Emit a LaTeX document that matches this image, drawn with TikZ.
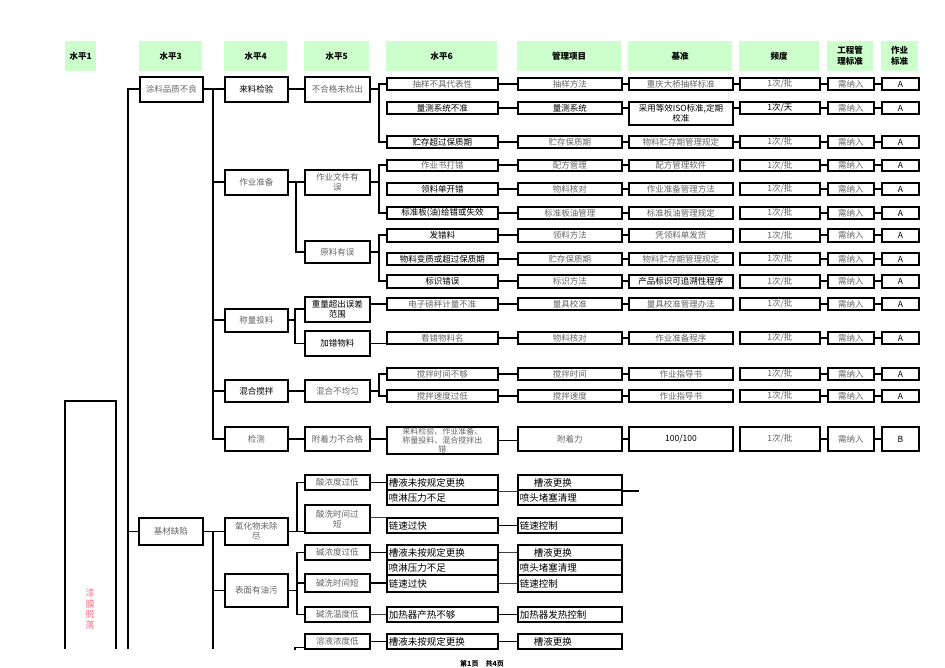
\documentclass[tikz,border=0pt]{standalone}
\usepackage{fontspec}
\newfontfamily\cjk{Noto Sans CJK SC}
\definecolor{hdrgreen}{RGB}{204,255,204}
\definecolor{txtgray}{RGB}{100,100,100}
\definecolor{pinktxt}{RGB}{250,110,130}
\tikzset{
  box/.style={draw, line width=1.9pt, anchor=north west, inner sep=0pt, text=txtgray,
    font=\cjk\fontsize{8.5}{9.5}\selectfont, align=center},
  bbox/.style={box, text=black},
  hdr/.style={fill=hdrgreen, anchor=north west, inner sep=0pt, minimum height=30pt,
    font=\cjk\bfseries\fontsize{8.5}{11}\selectfont, align=center},
  cbox/.style={draw, line width=1.9pt, anchor=north west, inner sep=2pt, text width=107pt,
    align=left, text=black, font=\cjk\fontsize{9.5}{10}\selectfont},
  mbox/.style={cbox, text width=100pt},
  con/.style={line width=1.9pt},
  thin/.style={line width=0.8pt, black!75},
}
\begin{document}
\begin{tikzpicture}[x=1pt, y=-1pt]
  \useasboundingbox (0,0) rectangle (945,668);

  % header row
  \node[hdr, minimum width=31pt] (h1) at (65,41) {水平1};
  \node[hdr, minimum width=63pt] (h3) at (139,41) {水平3};
  \node[hdr, minimum width=63pt] (h4) at (224,41) {水平4};
  \node[hdr, minimum width=65pt] (h5) at (304,41) {水平5};
  \node[hdr, minimum width=111pt] (h6) at (386,41) {水平6};
  \node[hdr, minimum width=104pt] (hm) at (517,41) {管理项目};
  \node[hdr, minimum width=104pt] (hs) at (628,41) {基准};
  \node[hdr, minimum width=80pt] (hf) at (739,41) {频度};
  \node[hdr, minimum width=46pt] (hg) at (827,41) {工程管\\理标准};
  \node[hdr, minimum width=37pt] (hz) at (881,41) {作业\\标准};

  % left frame
  \draw[con] (65,649) -- (65,401) -- (116,401) -- (116,649);
  \node[font=\cjk\fontsize{9}{10.5}\selectfont, text=pinktxt, align=center] (ltxt) at (90,609) {漆\\膜\\脱\\落};

  % level 3
  \node[box, minimum width=63pt, minimum height=25pt] (pq) at (139,76) {涂料品质不良};
  \node[box, minimum width=64pt, minimum height=27pt] (jc) at (138,517) {基材缺陷};

  % level 4
  \node[bbox, minimum width=63pt, minimum height=25pt] (ll) at (224,76) {来料检验};
  \node[box, minimum width=63pt, minimum height=25pt] (zb) at (224,169) {作业准备};
  \node[box, minimum width=63pt, minimum height=23pt] (cl) at (224,308) {称量投料};
  \node[bbox, minimum width=63pt, minimum height=22pt] (hh) at (224,379) {混合搅拌};
  \node[box, minimum width=63pt, minimum height=24pt] (jct) at (224,426) {检测};
  \node[box, minimum width=63pt, minimum height=27pt] (yh) at (224,517) {氧化物未除\\尽};
  \node[box, minimum width=63pt, minimum height=33pt] (yw) at (224,573) {表面有油污};

  % level 5
  \node[box, minimum width=65pt, minimum height=25pt] (bh) at (304,76) {不合格未检出};
  \node[box, minimum width=65pt, minimum height=25pt] (wj) at (304,169) {作业文件有\\误};
  \node[box, minimum width=65pt, minimum height=22pt] (yl) at (304,240) {原料有误};
  \node[bbox, minimum width=65pt, minimum height=25pt] (zl) at (304,296) {重量超出误差\\范围};
  \node[bbox, minimum width=65pt, minimum height=25pt] (jw) at (304,330) {加错物料};
  \node[box, minimum width=65pt, minimum height=22pt] (bj) at (304,379) {混合不均匀};
  \node[box, minimum width=65pt, minimum height=24pt] (fz) at (304,426) {附着力不合格};
  \node[box, minimum width=65pt, minimum height=15pt] (sn) at (304,474) {酸浓度过低};
  \node[box, minimum width=65pt, minimum height=28pt] (ss) at (304,504) {酸洗时间过\\短};
  \node[box, minimum width=65pt, minimum height=15pt] (jn) at (304,544) {碱浓度过低};
  \node[box, minimum width=65pt, minimum height=18pt] (js) at (304,573) {碱洗时间短};
  \node[box, minimum width=65pt, minimum height=15pt] (jwd) at (304,606) {碱洗温度低};
  \node[box, minimum width=65pt, minimum height=15pt] (rn) at (304,633) {溶液浓度低};

  % level 6
  \node[box, minimum width=111pt, minimum height=12pt] (r1) at (386,77) {抽样不具代表性};
  \node[bbox, minimum width=111pt, minimum height=12pt] (r2) at (386,101) {量测系统不准};
  \node[bbox, minimum width=111pt, minimum height=12pt] (r3) at (386,135) {贮存超过保质期};
  \node[box, minimum width=111pt, minimum height=11pt] (r4) at (386,159) {作业书打错};
  \node[bbox, minimum width=111pt, minimum height=12pt] (r5) at (386,182) {领料单开错};
  \node[bbox, minimum width=111pt, minimum height=12pt] (r6) at (386,206) {标准板(油)给错或失效};
  \node[bbox, minimum width=111pt, minimum height=13pt] (r7) at (386,228) {发错料};
  \node[bbox, minimum width=111pt, minimum height=12pt] (r8) at (386,252) {物料变质或超过保质期};
  \node[bbox, minimum width=111pt, minimum height=13pt] (r9) at (386,274) {标识错误};
  \node[box, minimum width=111pt, minimum height=12pt] (r10) at (386,297) {电子磅秤计量不准};
  \node[box, minimum width=111pt, minimum height=12pt] (r11) at (386,331) {看错物料名};
  \node[box, minimum width=111pt, minimum height=12pt] (r12) at (386,367) {搅拌时间不够};
  \node[box, minimum width=111pt, minimum height=12pt] (r13) at (386,389) {搅拌速度过低};
  \node[box, minimum width=111pt, minimum height=27pt, font=\cjk\fontsize{8}{8.6}\selectfont]
    (r14) at (386,426) {来料检验、作业准备、\\称量投料、混合搅拌出\\错};

  % management items
  \node[box, minimum width=104pt, minimum height=12pt] (m1) at (517,77) {抽样方法};
  \node[bbox, minimum width=104pt, minimum height=12pt] (m2) at (517,101) {量测系统};
  \node[box, minimum width=104pt, minimum height=12pt] (m3) at (517,135) {贮存保质期};
  \node[box, minimum width=104pt, minimum height=11pt] (m4) at (517,159) {配方管理};
  \node[box, minimum width=104pt, minimum height=12pt] (m5) at (517,182) {物料核对};
  \node[box, minimum width=104pt, minimum height=12pt] (m6) at (517,206) {标准板油管理};
  \node[box, minimum width=104pt, minimum height=13pt] (m7) at (517,228) {领料方法};
  \node[box, minimum width=104pt, minimum height=12pt] (m8) at (517,252) {贮存保质期};
  \node[box, minimum width=104pt, minimum height=13pt] (m9) at (517,274) {标识方法};
  \node[box, minimum width=104pt, minimum height=12pt] (m10) at (517,297) {量具校准};
  \node[box, minimum width=104pt, minimum height=12pt] (m11) at (517,331) {物料核对};
  \node[box, minimum width=104pt, minimum height=12pt] (m12) at (517,367) {搅拌时间};
  \node[box, minimum width=104pt, minimum height=12pt] (m13) at (517,389) {搅拌速度};
  \node[box, minimum width=104pt, minimum height=24pt] (m14) at (517,426) {附着力};

  % standards
  \node[box, minimum width=104pt, minimum height=12pt] (s1) at (628,77) {重庆大桥抽样标准};
  \node[bbox, minimum width=104pt, minimum height=23pt] (s2) at (628,101) {采用等效ISO标准,定期\\校准};
  \node[box, minimum width=104pt, minimum height=12pt] (s3) at (628,135) {物料贮存期管理规定};
  \node[box, minimum width=104pt, minimum height=11pt] (s4) at (628,159) {配方管理软件};
  \node[box, minimum width=104pt, minimum height=12pt] (s5) at (628,182) {作业准备管理方法};
  \node[box, minimum width=104pt, minimum height=12pt] (s6) at (628,206) {标准板油管理规定};
  \node[box, minimum width=104pt, minimum height=13pt] (s7) at (628,228) {凭领料单发货};
  \node[box, minimum width=104pt, minimum height=12pt] (s8) at (628,252) {物料贮存期管理规定};
  \node[bbox, minimum width=104pt, minimum height=13pt] (s9) at (628,274) {产品标识可追溯性程序};
  \node[box, minimum width=104pt, minimum height=12pt] (s10) at (628,297) {量具校准管理办法};
  \node[box, minimum width=104pt, minimum height=12pt] (s11) at (628,331) {作业准备程序};
  \node[box, minimum width=104pt, minimum height=12pt] (s12) at (628,367) {作业指导书};
  \node[box, minimum width=104pt, minimum height=12pt] (s13) at (628,389) {作业指导书};
  \node[bbox, minimum width=104pt, minimum height=24pt] (s14) at (628,426) {100/100};

  % frequency, project standard, work standard
  \foreach \i/\ya/\h/\fq/\zt in {1/77/12/{1次/批}/A, 2/101/12/{\textcolor{black}{1次/天}}/A,
      3/135/12/{1次/批}/A, 4/159/11/{1次/批}/A, 5/182/12/{1次/批}/A, 6/206/12/{1次/批}/A,
      7/228/13/{1次/批}/A, 8/252/12/{1次/批}/A, 9/274/13/{1次/批}/A, 10/297/12/{1次/批}/A,
      11/331/12/{1次/批}/A, 12/367/12/{1次/批}/A, 13/389/12/{1次/批}/A, 14/426/24/{1次/批}/B} {
    \node[box, minimum width=80pt, minimum height=\h] (f\i) at (739,\ya) {\fq};
    \node[box, minimum width=46pt, minimum height=\h] (g\i) at (827,\ya) {需纳入};
    \node[bbox, minimum width=37pt, minimum height=\h] (z\i) at (881,\ya) {\zt};
  }

  % causes and measures
  \node[cbox, minimum height=15pt] (c1a) at (386,474) {槽液未按规定更换};
  \node[cbox, minimum height=15pt] (c1b) at (386,489) {喷淋压力不足};
  \node[cbox, minimum height=15pt] (c2) at (386,517) {链速过快};
  \node[cbox, minimum height=15pt] (c3a) at (386,544) {槽液未按规定更换};
  \node[cbox, minimum height=15pt] (c3b) at (386,559) {喷淋压力不足};
  \node[cbox, minimum height=17pt] (c3c) at (386,574) {链速过快};
  \node[cbox, minimum height=15pt] (c4) at (386,606) {加热器产热不够};
  \node[cbox, minimum height=15pt] (c5) at (386,633) {槽液未按规定更换};
  \node[mbox, minimum height=15pt] (d1a) at (517,474) {\hspace*{14pt}槽液更换};
  \node[mbox, minimum height=15pt] (d1b) at (517,489) {喷头堵塞清理};
  \node[mbox, minimum height=15pt] (d2) at (517,517) {链速控制};
  \node[mbox, minimum height=15pt] (d3a) at (517,544) {\hspace*{14pt}槽液更换};
  \node[mbox, minimum height=15pt] (d3b) at (517,559) {喷头堵塞清理};
  \node[mbox, minimum height=17pt] (d3c) at (517,574) {链速控制};
  \node[mbox, minimum height=15pt] (d4) at (517,606) {加热器发热控制};
  \node[mbox, minimum height=15pt] (d5) at (517,633) {\hspace*{14pt}槽液更换};

  \node[font=\cjk\bfseries\fontsize{7}{8}\selectfont] (pg) at (482,664) {第1页\quad 共4页};

  % tree lines
  \coordinate (rootend) at (128,649);
  \coordinate (t4) at (213,0);
  \coordinate (t4end) at (213,649);
  \coordinate (rnend) at (295,650);
  \coordinate (d1out) at (639,489);

  \draw[con] (pq.west) -| (rootend);
  \draw[con] (jc.west) -- (jc.west -| rootend);
  \draw[con] (pq.east) -- (ll.west);
  \foreach \n in {zb,cl,hh,jct}
    \draw[con] (pq.east -| t4) |- (\n.west);
  \draw[con] (jc.east) -- (yh.west);
  \draw[con] (jc.east -| t4) -- (t4end);
  \draw[con] (jc.east -| t4) |- (yw.west);

  \draw[con] (ll.east) -- (bh.west);
  \draw[con] (zb.east) -- (wj.west);
  \draw[con] (zb.east) -- ++(7,0) |- (yl.west);
  \foreach \n in {zl,jw}
    \draw[con] (cl.east) -- ++(6,0) |- (\n.west);
  \draw[con] (hh.east) -- (bj.west);
  \draw[con] (jct.east) -- (fz.west);
  \draw[con] (yh.east) -- (yh.east -| ss.west);
  \draw[con] (yh.east) -- ++(8,0) |- (sn.west);
  \foreach \n in {jn,js,jwd}
    \draw[con] (yw.east) -- ++(8,0) |- (\n.west);
  \draw[con] (rnend) |- ([yshift=-6pt]rn.west);

  \foreach \n in {r1,r3}
    \draw[con] (bh.east) -- ++(8,0) |- (\n.west);
  \foreach \n in {r4,r6}
    \draw[con] (wj.east) -- ++(8,0) |- (\n.west);
  \foreach \n in {r7,r9}
    \draw[con] (yl.east) -- ++(8,0) |- (\n.west);
  \draw[con] (r10.west) -- (r10.west -| zl.east);
  \draw[con] (jw.east) -- (jw.east -| r11.west);
  \foreach \n in {r12,r13}
    \draw[con] (bj.east) -- ++(8,0) |- (\n.west);
  \draw[con] (fz.east) -- (fz.east -| r14.west);

  % row links
  \foreach \i in {1,...,14} {
    \draw[con] (r\i.east) -- (r\i.east -| m\i.west);
    \draw[con] (m\i.east) -- (m\i.east -| s\i.west);
    \draw[con] (f\i.east) -- (g\i.west);
    \draw[con] (g\i.east) -- (z\i.west);
  }
  \foreach \i in {1,2,3}
    \draw[con] (f\i.west) -- (f\i.west -| s\i.east);

  % bottom links
  \draw[con] (sn.east) -- (sn.east -| c1a.west);
  \draw[thin] (ss.east |- c2.north) -- (c2.north west);
  \draw[con] (jn.east) -- (jn.east -| c3a.west);
  \draw[con] (js.east) -- (js.east -| c3c.west);
  \draw[thin] (jwd.east) -- (jwd.east -| c4.west);
  \draw[con] (rn.east) -- (c5.west);
  \draw[thin] (c1a.south east) -- (c1a.south east -| d1a.west);
  \draw[con] (d1a.south east) -- (d1a.south east -| d1out);
  \draw[con] (c2.east) -- (d2.west);
  \draw[thin] (c3a.east) -- (d3a.west);
  \draw[thin] (c3c.east) -- (d3c.west);
  \draw[con] (c4.east) -- (d4.west);
  \draw[con] (c5.east) -- (d5.west);
\end{tikzpicture}
\end{document}
